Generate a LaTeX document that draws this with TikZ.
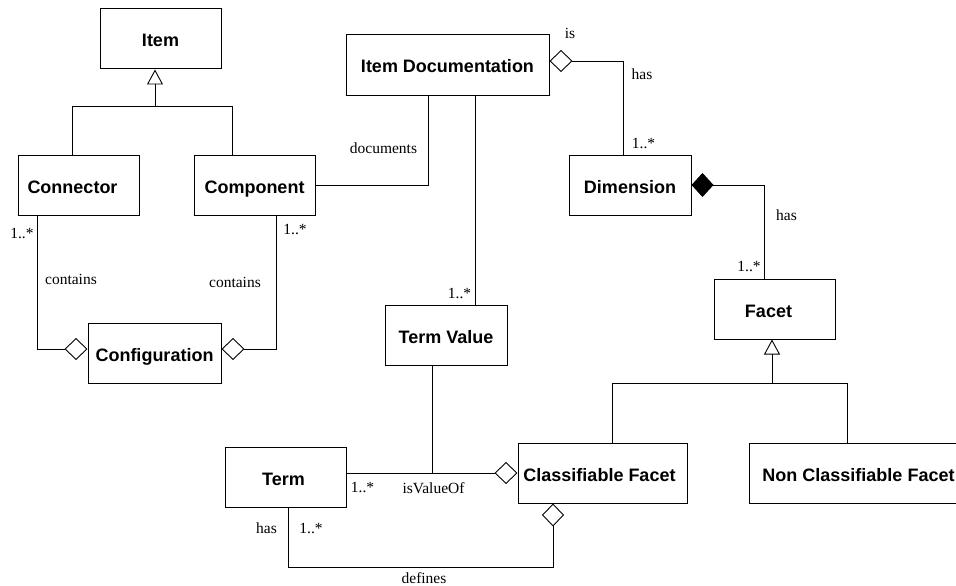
\documentclass[tikz,border=0pt]{standalone}
\usepackage{fontspec}
\setmainfont{Liberation Serif}
\newfontfamily\boxfont{Liberation Sans}
\usetikzlibrary{arrows.meta}

\tikzset{
  cls/.style={draw, line width=1pt, inner sep=0pt, minimum height=60pt,
    font=\boxfont\bfseries\fontsize{18}{20}\selectfont,
    text height=16pt, text depth=0pt},
  lbl/.style={anchor=base, inner sep=0pt, font=\fontsize{15.5}{17}\selectfont},
  wire/.style={line width=0.9pt},
  gen/.style={wire, -{Triangle[open, length=15pt, width=16pt]}},
  agg/.style={wire, -{Diamond[open, length=23pt, width=22pt]}},
  compo/.style={wire, -{Diamond[length=22pt, width=24pt]}},
}

\begin{document}
\begin{tikzpicture}[x=1pt, y=-1pt]
  \useasboundingbox (0,0) rectangle (956,586);
  \fill[white] (0,0) rectangle (956,586);
  \clip (0,0) rectangle (956,586);

  % classes
  \node[cls, minimum width=121pt] (item)    at (160.5,39)  {Item};
  \node[cls, minimum width=121pt] (con)     at (78.5,185)  {Connector\hspace*{12pt}};
  \node[cls, minimum width=121pt] (comp)    at (254.5,185) {Component};
  \node[cls, minimum width=133pt] (conf)    at (154.5,353) {Configuration};
  \node[cls, minimum width=203pt] (itemdoc) at (447.5,65)  {Item Documentation};
  \node[cls, minimum width=122pt] (dim)     at (630,185)   {Dimension};
  \node[cls, minimum width=122pt] (tv)      at (446,335)   {Term Value};
  \node[cls, minimum width=121pt] (facet)   at (774.5,309) {Facet\hspace*{12pt}};
  \node[cls, minimum width=121pt] (term)    at (285.5,477) {Term\hspace*{4pt}};
  \node[cls, minimum width=169pt] (cf)      at (602.5,473) {Classifiable Facet\hspace*{6pt}};
  \node[cls, minimum width=219pt] (ncf)     at (858.5,473) {Non Classifiable Facet};

  % bend points of the connectors
  \coordinate (ij)  at (155,106);
  \coordinate (cx)  at (72,106);
  \coordinate (px)  at (232,106);
  \coordinate (dx)  at (428,185);
  \coordinate (tvx) at (475,200);
  \coordinate (hx)  at (623,61);
  \coordinate (fx)  at (764,185);
  \coordinate (gj)  at (772,383);
  \coordinate (gl)  at (612,383);
  \coordinate (gr)  at (847,383);
  \coordinate (clx) at (37,349);
  \coordinate (crx) at (276,349);
  \coordinate (vx)  at (432,473);
  \coordinate (dfl) at (288,567);
  \coordinate (dfr) at (553,567);

  % Item generalisation
  \draw[gen] (ij) -- (ij |- item.south);
  \draw[wire] (cx |- con.north) -- (cx) -- (px) -- (px |- comp.north);

  % documents
  \draw[wire] (comp.east) -- (dx) -- (dx |- itemdoc.south);

  % Item Documentation -- Term Value
  \draw[wire] (tvx |- itemdoc.south) -- (tvx |- tv.north);

  % Item Documentation has Dimension
  \draw[agg] (hx |- dim.north) -- (hx) -- (hx -| itemdoc.east);

  % Dimension has Facet
  \draw[compo] (fx |- facet.north) -- (fx) -- (dim.east);

  % Facet generalisation
  \draw[gen] (gj) -- (gj |- facet.south);
  \draw[wire] (gl |- cf.north) -- (gl) -- (gr) -- (gr |- ncf.north);

  % Configuration contains
  \draw[agg] (clx |- con.south) -- (clx) -- (clx -| conf.west);
  \draw[agg] (crx |- comp.south) -- (crx) -- (crx -| conf.east);

  % isValueOf
  \draw[wire] (vx |- tv.south) -- (vx);
  \draw[agg] (vx -| term.east) -- (vx -| cf.west);

  % defines
  \draw[agg] (dfl |- term.south) -- (dfl) -- (dfr) -- (dfr |- cf.south);

  % association labels
  \node[lbl] (l1)  at (570,39)    {is};
  \node[lbl] (l2)  at (642,80)    {has};
  \node[lbl] (l3)  at (643.5,148) {1..*};
  \node[lbl] (l4)  at (383.5,153) {documents};
  \node[lbl] (l5)  at (22,238)    {1..*};
  \node[lbl] (l6)  at (295,234)   {1..*};
  \node[lbl] (l7)  at (71,284)    {contains};
  \node[lbl] (l8)  at (235,287)   {contains};
  \node[lbl] (l9)  at (459.5,298) {1..*};
  \node[lbl] (l10) at (362.5,492) {1..*};
  \node[lbl] (l11) at (433.5,493) {isValueOf};
  \node[lbl] (l12) at (266.5,533) {has};
  \node[lbl] (l13) at (311,533)   {1..*};
  \node[lbl] (l14) at (424,583)   {defines};
  \node[lbl] (l15) at (786.5,220) {has};
  \node[lbl] (l16) at (749,271)   {1..*};
\end{tikzpicture}
\end{document}
